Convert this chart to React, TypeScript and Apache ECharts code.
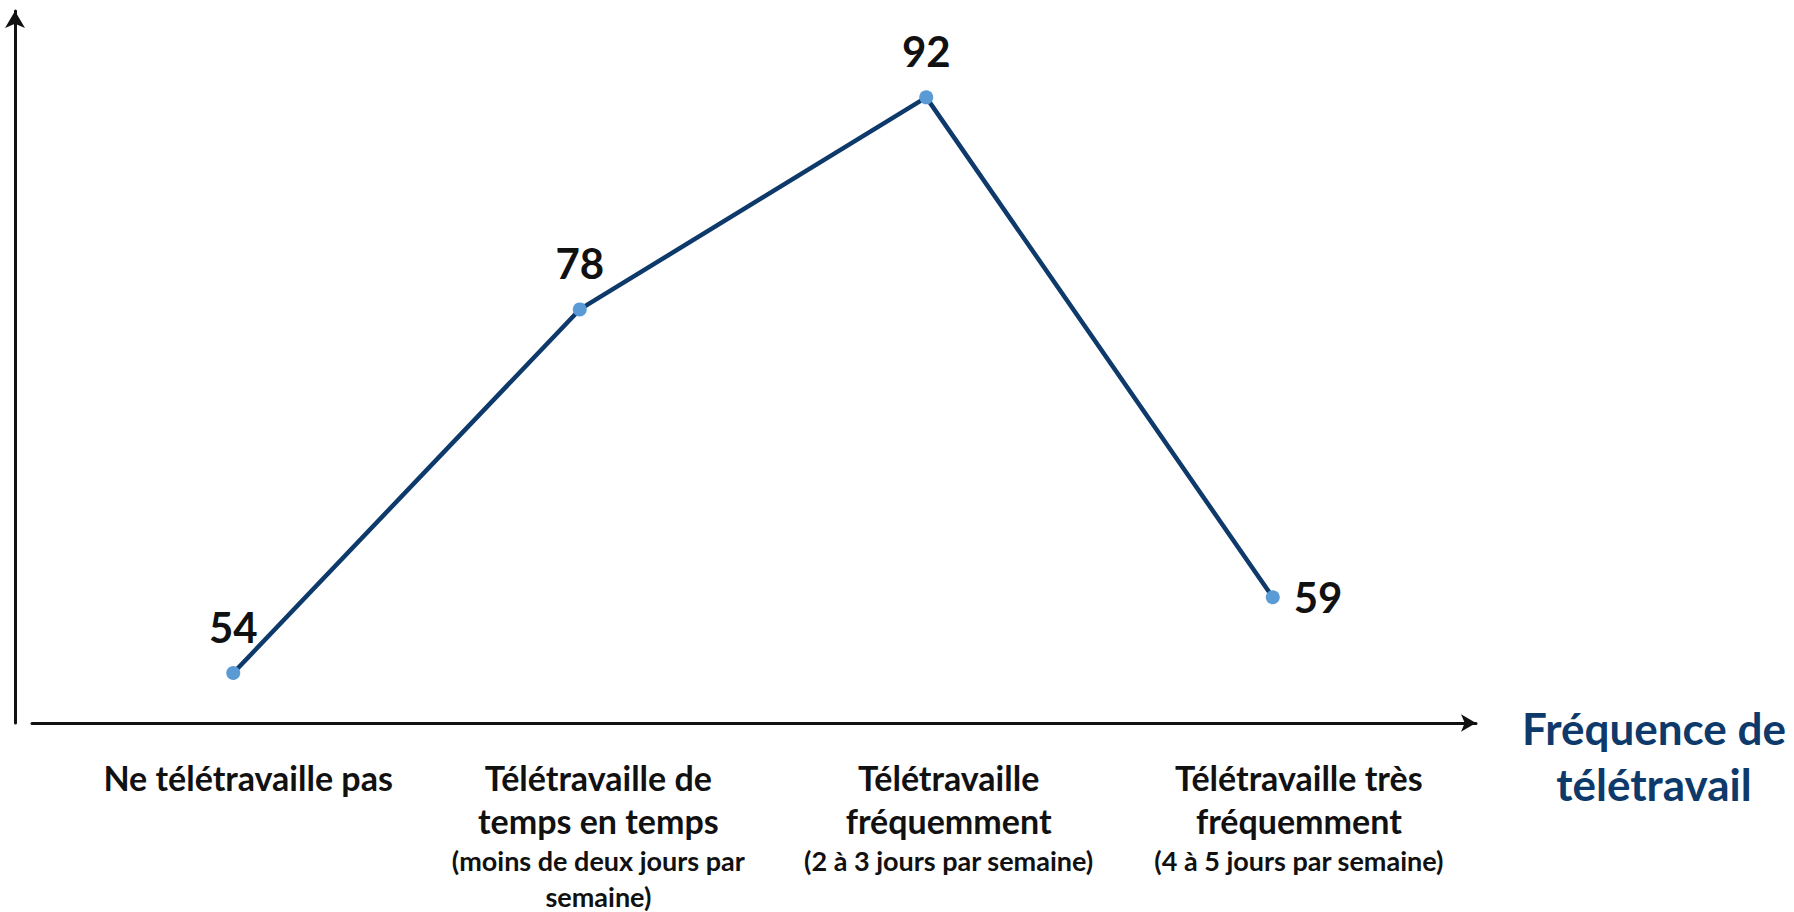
import React, { useEffect, useRef } from "react";
import * as echarts from "echarts";

const categories = ["Ne télétravaille pas", "Télétravaille de temps en temps", "Télétravaille fréquemment", "Télétravaille très fréquemment"];
const categoryMainLines = [
  ["Ne télétravaille pas"],
  ["Télétravaille de", "temps en temps"],
  ["Télétravaille", "fréquemment"],
  ["Télétravaille très", "fréquemment"],
];
const categoryDetailLines = [
  [],
  ["(moins de deux jours par", "semaine)"],
  ["(2 à 3 jours par semaine)"],
  ["(4 à 5 jours par semaine)"],
];
const values = [54, 78, 92, 59];
const axisTitle = "Fréquence de\ntélétravail";
const yMin = 50.7;
const yMax = 97.7;

const FONT = "Lato";

export default function App() {
  const ref = useRef<HTMLDivElement>(null);
  useEffect(() => {
    if (!ref.current) return;
    const chart = echarts.init(ref.current, null, { renderer: "svg" });
    const top = 11;
    const bottom = 189;
    chart.setOption({
      animation: false,
      backgroundColor: "#ffffff",
      grid: [
        { left: 32, right: 318, top, bottom },
        { left: 73, right: 320, top, bottom },
        { left: 60, right: 348, top, bottom },
      ],
      xAxis: [
        {
          gridIndex: 0,
          type: "value",
          min: 0,
          max: 1,
          axisLine: { show: true, onZero: false, symbol: ["none", "arrow"], symbolSize: [13, 15], lineStyle: { color: "#111", width: 3 } },
          axisTick: { show: false },
          axisLabel: { show: false },
          splitLine: { show: false },
        },
        {
          gridIndex: 1,
          type: "category",
          data: categories,
          axisLine: { show: false },
          axisTick: { show: false },
          splitLine: { show: false },
          axisLabel: {
            show: true,
            interval: 0,
            margin: 33,
            formatter: (_v: string, idx: number) => {
              const a = categoryMainLines[idx].map((l) => `{a|${l}}`);
              const b = categoryDetailLines[idx].map((l) => `{b|${l}}`);
              return a.concat(b).join("\n");
            },
            rich: {
              a: { fontFamily: FONT, fontWeight: "bold", fontSize: 34, lineHeight: 43, color: "#111", align: "center" },
              b: { fontFamily: FONT, fontWeight: "bold", fontSize: 27, lineHeight: 36, color: "#111", align: "center" },
            },
          },
        },
        {
          gridIndex: 2,
          type: "category",
          data: categories,
          show: false,
        },
      ],
      yAxis: [
        {
          gridIndex: 0,
          type: "value",
          min: 0,
          max: 1,
          position: "left",
          offset: 17,
          axisLine: { show: true, onZero: false, symbol: ["none", "arrow"], symbolSize: [15, 17], lineStyle: { color: "#111", width: 3 } },
          axisTick: { show: false },
          axisLabel: { show: false },
          splitLine: { show: false },
        },
        { gridIndex: 1, type: "value", show: false, splitLine: { show: false } },
        { gridIndex: 2, type: "value", min: yMin, max: yMax, show: false, splitLine: { show: false } },
      ],
      graphic: [
        {
          type: "text",
          x: 1654,
          y: 700,
          style: {
            text: axisTitle,
            fontFamily: FONT,
            fontWeight: "bold",
            fontSize: 44,
            lineHeight: 56,
            fill: "#0e3a6b",
            textAlign: "center",
            textVerticalAlign: "top",
          },
        },
      ],
      series: [
        {
          type: "line",
          xAxisIndex: 2,
          yAxisIndex: 2,
          data: values.map((v, i) =>
            i === values.length - 1
              ? { value: v, label: { position: "right", distance: 14 } }
              : v
          ),
          symbol: "circle",
          symbolSize: 14,
          lineStyle: { color: "#0e3a6b", width: 4.5 },
          itemStyle: { color: "#5b9bd5" },
          label: {
            show: true,
            position: "top",
            distance: 18,
            fontFamily: FONT,
            fontWeight: "bold",
            fontSize: 42,
            color: "#111",
          },
          emphasis: { disabled: true },
        },
      ],
    });
    return () => chart.dispose();
  }, []);
  return <div ref={ref} style={{ position: "fixed", left: 0, top: 0, width: 1794, height: 912 }} />;
}
